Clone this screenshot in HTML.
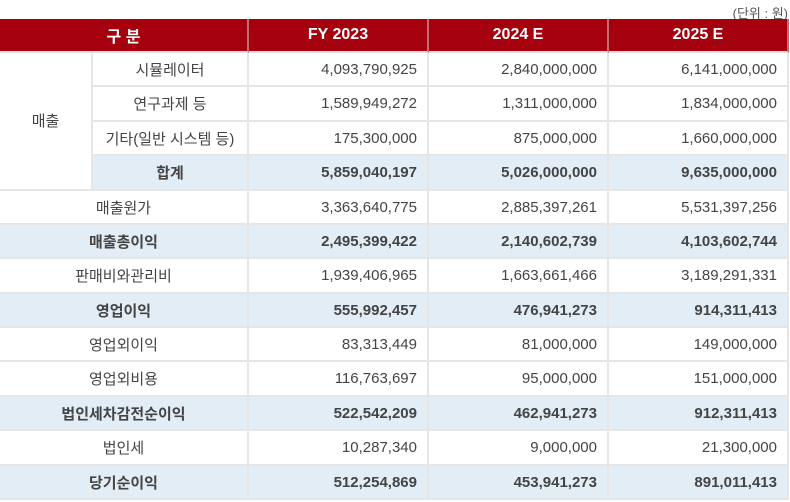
<!DOCTYPE html>
<html><head><meta charset="utf-8">
<style>
*{margin:0;padding:0;box-sizing:border-box}
body{width:790px;height:502px;background:#fff;position:relative;overflow:hidden;font-family:"Liberation Sans","Noto Sans CJK KR",sans-serif;color:#444}
.c{position:absolute;display:flex;align-items:center;font-size:15px;border-right:2px solid #e6e6e6;border-bottom:2px solid #e6e6e6}
.h{background:#a5000e;color:#fff;font-weight:bold;justify-content:center;font-size:16px;border-right:2px solid #c86a70;border-bottom:2px solid #ddd}
.l{justify-content:center}
.n{justify-content:flex-end;padding-right:10px}
.b{background:#e3edf6;font-weight:bold}
.unit{position:absolute;right:2px;top:3px;font-size:13px;color:#555}
</style></head><body>
<div class="unit">(단위 : 원)</div>
<div id="t"></div>
<script>
const headers=["구 분","FY 2023","2024 E","2025 E"];
const labels=["시뮬레이터","연구과제 등","기타(일반 시스템 등)","합계","매출원가","매출총이익","판매비와관리비","영업이익","영업외이익","영업외비용","법인세차감전순이익","법인세","당기순이익"];
const fy2023=["4,093,790,925","1,589,949,272","175,300,000","5,859,040,197","3,363,640,775","2,495,399,422","1,939,406,965","555,992,457","83,313,449","116,763,697","522,542,209","10,287,340","512,254,869"];
const e2024=["2,840,000,000","1,311,000,000","875,000,000","5,026,000,000","2,885,397,261","2,140,602,739","1,663,661,466","476,941,273","81,000,000","95,000,000","462,941,273","9,000,000","453,941,273"];
const e2025=["6,141,000,000","1,834,000,000","1,660,000,000","9,635,000,000","5,531,397,256","4,103,602,744","3,189,291,331","914,311,413","149,000,000","151,000,000","912,311,413","21,300,000","891,011,413"];
const bold=[false,false,false,true,false,true,false,true,false,false,true,false,true];
const t=document.getElementById('t');
const X=[0,93,249,429,609,789];const top0=53,rh=(500-53)/13;
function cell(x,y,w,h,txt,cls,name){const d=document.createElement('div');d.className='c '+cls;d.style.left=x+'px';d.style.top=y+'px';d.style.width=w+'px';d.style.height=h+'px';d.textContent=txt;


t.appendChild(d);}
cell(0,19,X[2],34,headers[0],'h','header-category');
for(let i=1;i<4;i++)cell(X[i+1],19,X[i+2]-X[i+1],34,headers[i],'h','header-'+i);
cell(0,top0,X[1],rh*4,'매출','l','sales-group-label');
labels.forEach((lb,r)=>{const y=Math.round(top0+r*rh),h=Math.round(top0+(r+1)*rh)-y;const b=bold[r]?' b':'';
 if(r<4)cell(X[1],y,X[2]-X[1],h,lb,'l'+b,'row-label-'+r);else cell(0,y,X[2],h,lb,'l'+b,'row-label-'+r);
 cell(X[2],y,X[3]-X[2],h,fy2023[r],'n'+b,'fy2023-value-'+r);
 cell(X[3],y,X[4]-X[3],h,e2024[r],'n'+b,'e2024-value-'+r);
 cell(X[4],y,X[5]-X[4],h,e2025[r],'n'+b,'e2025-value-'+r);});
</script>
</body></html>
